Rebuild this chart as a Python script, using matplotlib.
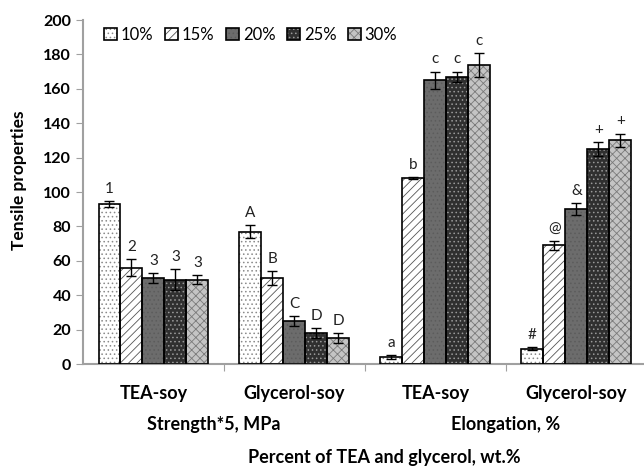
import numpy as np
import matplotlib.pyplot as plt
from matplotlib.patches import Patch

plt.rcParams['font.family'] = ['Lato', 'DejaVu Sans']
plt.rcParams['hatch.linewidth'] = 0.6

groups = ['TEA-soy', 'Glycerol-soy', 'TEA-soy', 'Glycerol-soy']
series = ['10%', '15%', '20%', '25%', '30%']

# rows = series (10%..30%), columns = groups
values = [
    [93, 77, 4, 9],
    [56, 50, 108, 69],
    [50, 25, 165, 90],
    [49, 18, 167, 125],
    [49, 15, 174, 130],
]
errors = [
    [1.5, 4, 1, 0.8],
    [5, 4, 0.6, 2.5],
    [3, 3, 5, 3.5],
    [6, 3, 3, 4],
    [2.5, 3, 7, 4],
]
marks = [
    ['1', 'A', 'a', '#'],
    ['2', 'B', 'b', '@'],
    ['3', 'C', 'c', '&'],
    ['3', 'D', 'c', '+'],
    ['3', 'D', 'c', '+'],
]

faces = ['white', 'white', '#6c6c6c', '#303030', '#c4c4c4']
hatch_cols = ['#8a8a8a', '#555555', '#5c5c5c', '#9a9a9a', '#7a7a7a']
hatches = ['....', '////', '....', '....', 'xxxx']

fig = plt.figure(figsize=(6.44, 4.66), dpi=100)
ax = fig.add_axes([83 / 644, 102 / 466, 561 / 644, 344 / 466])

x = np.arange(len(groups))
w = 0.156
handles = []
for i in range(len(series)):
    xs = x + (i - 2) * w
    ax.bar(xs, values[i], w, color=faces[i], edgecolor=hatch_cols[i],
           hatch=hatches[i], lw=0, zorder=2)
    ax.bar(xs, values[i], w, fill=False, edgecolor='black', lw=1.2, zorder=3)
    ax.errorbar(xs, values[i], yerr=errors[i], fmt='none', ecolor='black',
                elinewidth=1, capsize=3.5, capthick=1, zorder=4)
    for xx, v, e, m in zip(xs, values[i], errors[i], marks[i]):
        ax.text(xx, v + e + 3, m, ha='center', va='bottom', fontsize=11, color='#222222')
    handles.append((Patch(facecolor=faces[i], edgecolor=hatch_cols[i], hatch=hatches[i], lw=0),
                    Patch(fill=False, edgecolor='black', lw=1.2)))

ax.legend(handles, series, loc='upper left', bbox_to_anchor=(0.02, 1.01), ncol=5,
          frameon=False, fontsize=12, handlelength=0.75, handleheight=0.75,
          handletextpad=0.25, columnspacing=0.7, borderaxespad=0.2)

ax.set_xlim(-0.5, 3.48)
ax.set_ylim(0, 200)
ax.set_yticks(np.arange(0, 201, 20))
for lab in ax.get_yticklabels():
    lab.set_fontweight('bold')
ax.tick_params(axis='y', labelsize=11.5, length=5, color='#a0a0a0', direction='out')
ax.set_xticks([0.5, 1.5, 2.5])
ax.set_xticklabels([])
ax.tick_params(axis='x', length=5, color='#a0a0a0', direction='out')

for s in ['top', 'right']:
    ax.spines[s].set_visible(False)
for s in ['left', 'bottom']:
    ax.spines[s].set_color('#a0a0a0')
    ax.spines[s].set_linewidth(1.5)

tr = ax.get_xaxis_transform()
for xx, g in zip(x, groups):
    ax.text(xx, -0.087, g, transform=tr, ha='center', va='center',
            fontsize=13, fontweight='bold')
ax.text(0.43, -0.177, 'Strength*5, MPa', transform=tr, ha='center', va='center',
        fontsize=13, fontweight='bold')
ax.text(2.5, -0.177, 'Elongation, %', transform=tr, ha='center', va='center',
        fontsize=13, fontweight='bold')
ax.text(1.64, -0.273, 'Percent of TEA and glycerol, wt.%', transform=tr,
        ha='center', va='center', fontsize=13, fontweight='bold')

fig.text(19 / 644, 1 - 180 / 466, 'Tensile properties', rotation=90,
         ha='center', va='center', fontsize=12.5, fontweight='bold')

fig.savefig('out.png', dpi=100)
